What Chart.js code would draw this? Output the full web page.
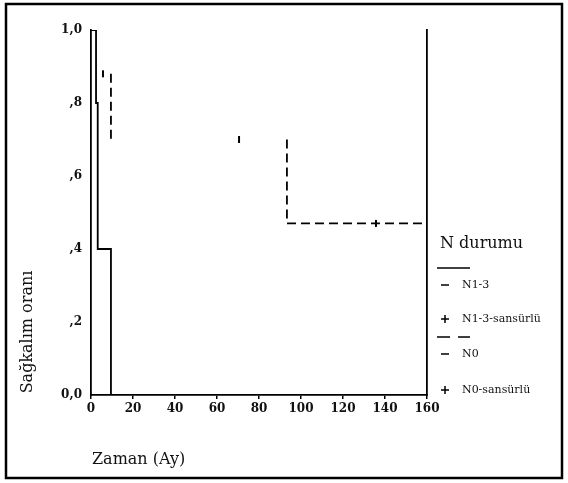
<!DOCTYPE html>
<html lang="tr">
<head>
<meta charset="UTF-8">
<title>Sağkalım</title>
<script src="https://cdn.jsdelivr.net/npm/chart.js"></script>
<style>
    body { margin: 0; padding: 0; background: #fff; }
    #wrap { width: 568px; height: 483px; }
</style>
</head>
<body>
<div id="wrap"><canvas id="kmChart" width="568" height="483"></canvas></div>
<script>
// Kaplan-Meier step points
var solidTimes = [0, 2.4, 2.4, 3.2, 3.2, 9.5, 9.5, 160];
var solidSurv = [1.0, 1.0, 0.8, 0.8, 0.4, 0.4, 0.0, 0.0];

var dashedTimes = [9.5, 9.5, 50, 93.3, 93.3, 160];
var dashedSurv = [0.88, 0.70, null, 0.70, 0.47, 0.47];

var censorTimes = [5.7, 70.5, 135.7];
var censorSurv = [0.88, 0.70, 0.47];

var xTicks = [0, 20, 40, 60, 80, 100, 120, 140, 160];
var yTickLabels = ['0,0', ',2', ',4', ',6', ',8', '1,0'];

var legendTitle = 'N durumu';
var legendItems = ['N1-3', 'N1-3-sansürlü', 'N0', 'N0-sansürlü'];
var xTitle = 'Zaman (Ay)';
var yTitle = 'Sağkalım oranı';

function toPoints(xs, ys) {
    return xs.map(function (x, i) { return { x: x, y: ys[i] }; });
}

var serif = "'DejaVu Serif', 'Liberation Serif', serif";

// frame, axis titles and legend
var decorPlugin = {
    id: 'decor',
    afterDraw: function (chart) {
        var ctx = chart.ctx;
        ctx.save();
        ctx.strokeStyle = '#000';
        ctx.lineWidth = 2.5;
        ctx.strokeRect(6, 4, 556, 474);

        ctx.fillStyle = '#111';
        ctx.font = '16px ' + serif;
        ctx.textBaseline = 'middle';
        ctx.textAlign = 'left';
        ctx.fillText(xTitle, 92, 460);

        ctx.save();
        ctx.translate(28, 332);
        ctx.rotate(-Math.PI / 2);
        ctx.textAlign = 'center';
        ctx.fillText(yTitle, 0, 0);
        ctx.restore();

        // legend
        ctx.fillText(legendTitle, 440, 244);
        ctx.lineWidth = 1.5;
        ctx.beginPath();
        ctx.moveTo(437, 268); ctx.lineTo(470, 268);
        ctx.stroke();
        ctx.setLineDash([13, 8]);
        ctx.beginPath();
        ctx.moveTo(437, 337); ctx.lineTo(470, 337);
        ctx.stroke();
        ctx.setLineDash([]);

        ctx.font = '11px ' + serif;
        var rows = [285, 319, 354, 390];
        rows.forEach(function (y, i) {
            ctx.fillText(legendItems[i], 462, y);
            ctx.beginPath();
            ctx.moveTo(441, y); ctx.lineTo(449, y);
            if (i % 2 === 1) {
                ctx.moveTo(445, y - 4); ctx.lineTo(445, y + 4);
            }
            ctx.stroke();
        });
        ctx.restore();
    }
};

new Chart(document.getElementById('kmChart'), {
    type: 'scatter',
    data: {
        datasets: [{
            data: toPoints(solidTimes, solidSurv),
            showLine: true,
            borderColor: '#000',
            borderWidth: 1.8,
            pointRadius: 0,
            spanGaps: false
        }, {
            data: toPoints(dashedTimes, dashedSurv),
            showLine: true,
            borderColor: '#000',
            borderWidth: 1.8,
            borderDash: [9, 5],
            pointRadius: 0,
            spanGaps: false
        }, {
            data: toPoints(censorTimes, censorSurv),
            showLine: false,
            pointStyle: 'line',
            rotation: 90,
            pointRadius: 3.5,
            borderColor: '#000',
            borderWidth: 2
        }]
    },
    options: {
        responsive: false,
        animation: false,
        layout: { padding: { top: 30, left: 0, right: 0, bottom: 0 } },
        plugins: { legend: { display: false }, tooltip: { enabled: false } },
        scales: {
            x: {
                type: 'linear',
                min: 0,
                max: 160,
                afterBuildTicks: function (scale) {
                    scale.ticks = xTicks.map(function (v) { return { value: v }; });
                },
                afterFit: function (scale) { scale.height = 88; },
                grid: { display: true, drawOnChartArea: false, drawTicks: true, tickLength: 4, color: '#000', lineWidth: 1.5 },
                border: { display: true, color: '#000', width: 1.8 },
                ticks: {
                    color: '#111',
                    padding: 3,
                    maxRotation: 0,
                    font: { family: serif, size: 12, weight: 'bold' }
                }
            },
            y: {
                min: 0,
                max: 1,
                afterBuildTicks: function (scale) {
                    scale.ticks = yTickLabels.map(function (l, i) { return { value: i * 0.2 }; });
                },
                afterFit: function (scale) { scale.width = 91; },
                grid: { display: false, drawTicks: false },
                border: { display: true, color: '#000', width: 1.8 },
                ticks: {
                    color: '#111',
                    padding: 9,
                    font: { family: serif, size: 12, weight: 'bold' },
                    callback: function (v, i) { return yTickLabels[i]; }
                }
            },
            y2: {
                position: 'right',
                min: 0,
                max: 1,
                afterFit: function (scale) { scale.width = 141; },
                grid: { display: false, drawTicks: false },
                border: { display: true, color: '#000', width: 1.8 },
                ticks: { display: false }
            }
        }
    },
    plugins: [decorPlugin]
});
</script>
</body>
</html>
